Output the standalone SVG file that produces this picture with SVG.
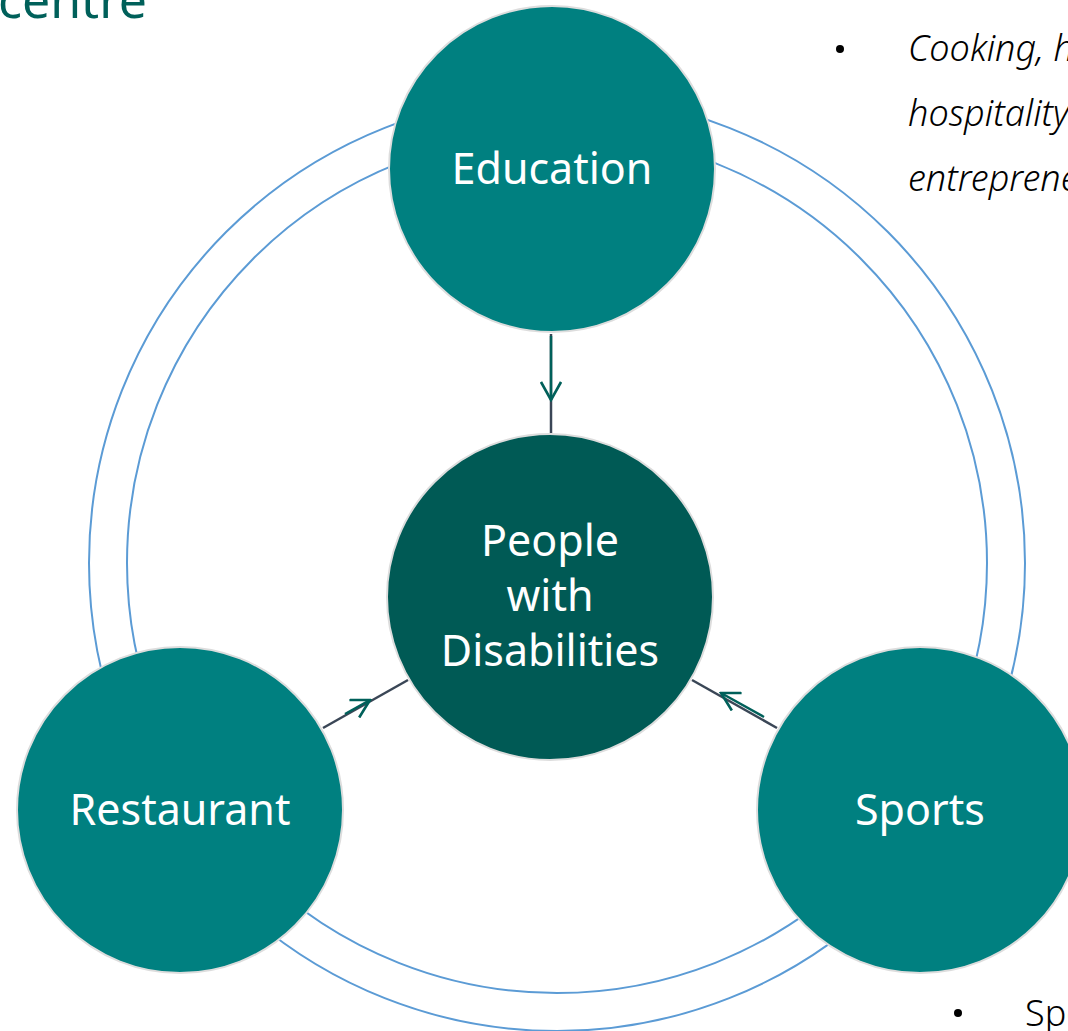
<svg xmlns="http://www.w3.org/2000/svg" width="1068" height="1031" viewBox="0 0 1068 1031">
<style>
.ring{fill:none;stroke:#5B9BD5;stroke-width:2}
.node{fill:#008080;stroke:#DDDDDD;stroke-width:2}
.core{fill:#005A55;stroke:#DDDDDD;stroke-width:2}
.lbl{font-family:"Noto Sans","Open Sans",sans-serif;font-size:43px;fill:#FFFFFF;text-anchor:middle}
.link{stroke:#3A4656;stroke-width:2.5;fill:none}
.arr{stroke:#00605A;stroke-width:2.5;fill:none}
.side{font-family:"Noto Sans","Open Sans",sans-serif;font-size:36px;font-weight:300;fill:#000}
</style>
<defs>
<marker id="vh" viewBox="0 0 22 22" refX="20" refY="11" markerWidth="22" markerHeight="22" markerUnits="userSpaceOnUse" orient="auto">
<path d="M2,1 L20,11 L2,21" fill="none" stroke="#00605A" stroke-width="2.6"/>
</marker>
</defs>
<rect width="1068" height="1031" fill="#FFFFFF"/>
<text x="-2" y="18" font-family="Noto Sans,Open Sans,sans-serif" font-size="50" fill="#00605A">centre</text>
<g id="side-text">
<circle cx="840" cy="49" r="4" fill="#000"/>
<text class="side" x="908" y="61" font-style="italic">Cooking, hotel</text>
<text class="side" x="908" y="126" font-style="italic">hospitality</text>
<text class="side" x="908" y="191" font-style="italic">entrepreneurship</text>
<circle cx="958" cy="1013" r="4" fill="#000"/>
<text class="side" x="1025" y="1026">Sports</text>
</g>
<g id="rings">
<circle class="ring" cx="557" cy="563" r="468"/>
<circle class="ring" cx="557" cy="563" r="430"/>
</g>
<g id="connectors">
<line class="link" x1="551" y1="334" x2="551" y2="433"/>
<line class="arr" x1="551" y1="336" x2="551" y2="400" marker-end="url(#vh)"/>
<line class="link" x1="323" y1="728" x2="408" y2="680"/>
<line class="arr" x1="345" y1="714" x2="370" y2="700" marker-end="url(#vh)"/>
<line class="link" x1="692" y1="680" x2="777" y2="728"/>
<line class="arr" x1="764" y1="717" x2="721" y2="693" marker-end="url(#vh)"/>
</g>
<g id="node-education">
<circle class="node" cx="552" cy="169" r="163"/>
<text class="lbl" x="552" y="184">Education</text>
</g>
<g id="node-people">
<circle class="core" cx="550" cy="597" r="163"/>
<text class="lbl" x="550" y="556">People</text>
<text class="lbl" x="550" y="611">with</text>
<text class="lbl" x="550" y="666">Disabilities</text>
</g>
<g id="node-restaurant">
<circle class="node" cx="180" cy="810" r="163"/>
<text class="lbl" x="180" y="825">Restaurant</text>
</g>
<g id="node-sports">
<circle class="node" cx="920" cy="810" r="163"/>
<text class="lbl" x="920" y="825">Sports</text>
</g>
</svg>
